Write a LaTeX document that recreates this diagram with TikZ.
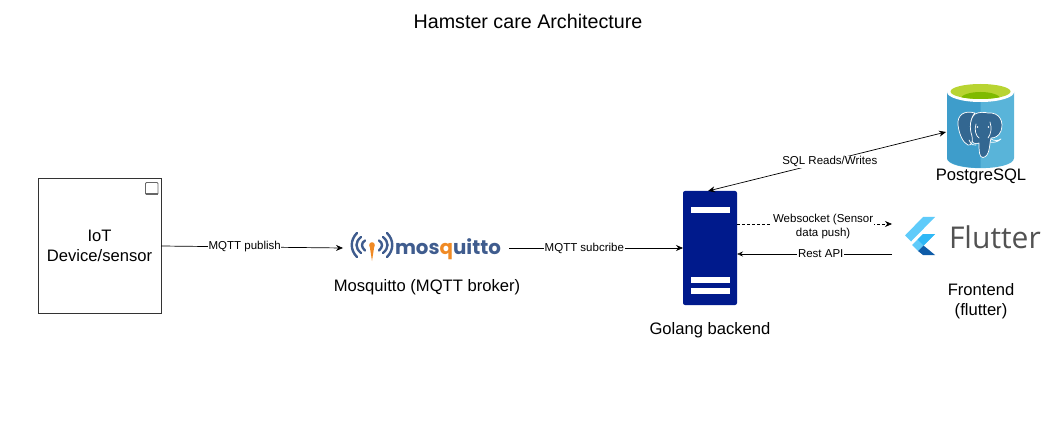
\documentclass[tikz,border=0pt]{standalone}
\usepackage{fontspec}
\setmainfont{Liberation Sans}
\newfontfamily\logofont{Poppins}
\newfontfamily\flutfont{Open Sans}
\usetikzlibrary{arrows.meta,positioning,calc}
\definecolor{navy}{HTML}{001A8C}
\definecolor{mosblue}{HTML}{3F5C8E}
\definecolor{mosorange}{HTML}{F08A24}
\definecolor{cylL}{HTML}{3E9DCB}
\definecolor{cylR}{HTML}{59B4D9}
\definecolor{limeA}{HTML}{B8D432}
\definecolor{limeB}{HTML}{7FBA00}
\definecolor{pgblue}{HTML}{336791}
\definecolor{flA}{HTML}{5FCBFA}
\definecolor{flB}{HTML}{2FB8F6}
\definecolor{flC}{HTML}{0F5CA8}
\tikzset{
  conn/.style={draw=black,line width=0.7pt,-{Stealth[length=7pt,width=6pt]}},
  lab/.style={font=\fontsize{11.5}{14.5}\selectfont,fill=white,inner sep=0.6pt,align=center},
  captext/.style={font=\fontsize{16.6}{20}\selectfont,inner sep=0pt,align=center},
  ghost/.style={inner sep=0pt,outer sep=0pt,draw=none},
  arcline/.style={draw=mosblue,line width=2.4pt,line cap=round},
  pgline/.style={draw=white,line width=0.7pt,line join=round,line cap=round}
}
\begin{document}
\begin{tikzpicture}[x=1pt,y=-1pt]
\useasboundingbox (0,0) rectangle (1064,430);
% title
\node[font=\fontsize{19.7}{24}\selectfont,inner sep=0pt] (title) at (528,21) {Hamster care Architecture};
% IoT
\node[draw=black!80,line width=0.8pt,minimum width=123pt,minimum height=135pt,outer sep=0pt,
      captext,text width=120pt] (iot) at (99.5,246) {IoT\\Device/sensor};
\draw[draw=black!60,line width=0.8pt,rounded corners=1pt] (145.5,182.5) rectangle (158,194.5);
\draw[draw=black!60,line width=1.2pt] (145.5,194) -- (158,194);
% Mosquitto
\node[ghost,minimum width=166pt,minimum height=30pt] (mosq) at (426,248) {};
\draw[arcline] (357,233) .. controls (350,240) and (350,250) .. (357,257);
\draw[arcline] (361,237) .. controls (355,242) and (355,248) .. (361,253);
\draw[arcline] (365,240.5) .. controls (361,243) and (361,247) .. (365,250.5);
\draw[arcline] (387,233) .. controls (394,240) and (394,250) .. (387,257);
\draw[arcline] (383,237) .. controls (389,242) and (389,248) .. (383,253);
\draw[arcline] (379,240.5) .. controls (383,243) and (383,247) .. (379,250.5);
\fill[mosorange] (369.5,245) -- (374.5,245) -- (372,261) -- cycle;
\fill[mosorange] (372,245) circle (2.8pt);
\node[ghost,font=\logofont\bfseries\fontsize{19.8}{24}\selectfont,text=mosblue,anchor=base] (mosqtext) at (448,254)
  {mos\textcolor{mosorange}{q}uitto};
\node[captext] (mosqcap) at (427,287) {Mosquitto (MQTT broker)};
% Server
\node[ghost,fill=navy,rounded corners=2pt,minimum width=54pt,minimum height=114pt] (server) at (710,248) {};
\fill[white] (691,207.5) rectangle (730,213);
\fill[white] (691,277) rectangle (730,283);
\fill[white] (691,288) rectangle (730,294);
\node[captext] (servercap) at (710,330) {Golang backend};
% PostgreSQL
\node[ghost,minimum width=67pt,minimum height=85pt] (pg) at (980.5,125.5) {};
\fill[cylR] (947,92) -- (947,158) .. controls (947,171.5) and (1014,171.5) .. (1014,158) -- (1014,92) -- cycle;
\fill[cylL] (947,92) -- (947,158) .. controls (947,164) and (965,168) .. (980.5,168) -- (980.5,92) -- cycle;
\fill[white] (980.5,92) ellipse[x radius=33.5pt,y radius=10pt];
\fill[limeA] (980.5,91.5) ellipse[x radius=30pt,y radius=7.5pt];
\begin{scope}
\clip (980.5,91.5) ellipse[x radius=30pt,y radius=7.5pt];
\fill[limeB] (980.5,99) ellipse[x radius=20pt,y radius=7pt];
\end{scope}
\begin{scope}[pgline]
\filldraw[fill=pgblue] (988,113) .. controls (1000,112) and (1004,122) .. (1001,131)
  .. controls (999,136) and (995,138) .. (991,138)
  .. controls (989,146) and (990,156) .. (983,157.5)
  .. controls (979,158) and (979,150) .. (979,143)
  .. controls (975,145) and (971,143) .. (971,137)
  .. controls (969,128) and (970,118) .. (975,114)
  .. controls (979,112) and (984,112) .. cycle;
\filldraw[fill=pgblue] (975,113) .. controls (964,110) and (957,115) .. (958,125)
  .. controls (959,134) and (963,143) .. (968,145)
  .. controls (972,146) and (973,141) .. (972,136)
  .. controls (969,128) and (970,118) .. (975,113) -- cycle;
\draw (991,139) .. controls (994,141) and (998,141) .. (1001,139) .. controls (998,142) and (993,143) .. (990,142);
\draw (969,140) .. controls (971,145) and (974,146) .. (976,145);
\draw (976,124) .. controls (974,130) and (976,136) .. (979,138);
\draw (990,122) .. controls (992,128) and (991,134) .. (988,138);
\fill[white] (977.5,127) circle (0.8pt);
\fill[white] (988.5,127) circle (0.8pt);
\end{scope}
\node[captext] (pgcap) at (981,176) {PostgreSQL};
% Flutter
\node[ghost,minimum width=148pt,minimum height=44pt] (flutter) at (966,239) {};
\fill[flA] (935,217) -- (923,217) -- (905,235.5) -- (911,241.5) -- cycle;
\fill[flA] (935,234) -- (923,234) -- (912,245) -- (918,251) -- cycle;
\fill[flB] (923,234) -- (935,234) -- (923.5,245.5) -- (917.5,239.5) -- cycle;
\fill[flC] (918,251) -- (923.5,245.5) -- (935,255) -- (923,255) -- cycle;
\node[ghost,font=\flutfont\fontsize{30}{36}\selectfont,text=black!68,anchor=base west] (flutext) at (949,248) {Flutter};
\node[captext] (flutcap) at (981,301) {Frontend\\(flutter)};
% connectors
\coordinate (wsa) at ($(server.east)+(0,-24)$);
\coordinate (wsb) at ($(flutter.west)+(0,-15)$);
\coordinate (raa) at ($(flutter.west)+(0,15)$);
\coordinate (rab) at ($(server.east)+(0,6)$);
\coordinate (pgw) at ($(pg.west)+(-1,6.5)$);
\coordinate (srvt) at ($(server.north)+(-2,0)$);
\draw[conn] (iot.east) -- node[lab,pos=0.46] (l1) {MQTT publish} (mosq.west);
\draw[conn] (mosq.east) -- node[lab,pos=0.433] (l2) {MQTT subcribe} (server.west);
\draw[conn,{Stealth[length=7pt,width=6pt]}-{Stealth[length=7pt,width=6pt]}] (srvt) -- node[lab,pos=0.52,xshift=-2pt,yshift=-1.5pt] (l3) {SQL Reads/Writes} (pgw);
\draw[conn,dash pattern=on 2.5pt off 2.5pt] (wsa) -- node[lab,pos=0.53,xshift=4pt,yshift=-2.5pt] (l4) {Websocket (Sensor\\data push)} (wsb);
\draw[draw=black,line width=0.7pt,-{Stealth[open,length=6pt,width=5pt]}] (raa) -- node[lab,pos=0.46] (l5) {Rest API} (rab);
\end{tikzpicture}
\end{document}
